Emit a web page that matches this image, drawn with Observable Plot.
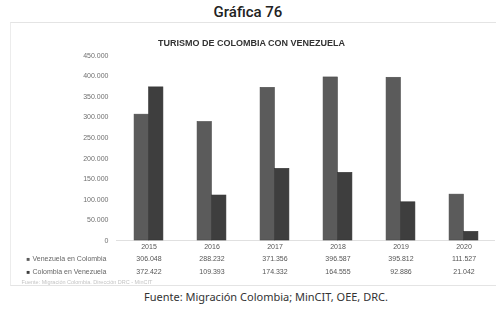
<!DOCTYPE html>
<html>
<head>
<meta charset="utf-8">
<script src="https://cdn.jsdelivr.net/npm/d3@7"></script>
<script src="https://cdn.jsdelivr.net/npm/@observablehq/plot@0.6"></script>
<style>
  html, body { margin: 0; padding: 0; background: #fff; }
  body { width: 496px; height: 323px; overflow: hidden; position: relative; }
  #title {
    position: absolute; left: 0; top: 2px; width: 496px; text-align: center;
    font: 500 15px Roboto, "Noto Sans", sans-serif; color: #222; line-height: 20px;
  }
  #chart {
    position: absolute; left: 10px; top: 22px; width: 486px; height: 262px;
    border-top: 1px solid #e4e4e4; border-left: 1px solid #ececec;
    border-bottom: 1px solid #e4e4e4;
  }
  #chart svg { display: block; filter: blur(0.35px); }
  #caption {
    position: absolute; left: 0; top: 289px; width: 496px; text-align: center;
    font: 400 11px "Noto Sans", "Open Sans", sans-serif; color: #333; line-height: 16px;
    padding-left: 36px; box-sizing: border-box;
  }
</style>
</head>
<body>
<div id="title">Gráfica 76</div>
<div id="chart"></div>
<div id="caption">Fuente: Migración Colombia; MinCIT, OEE, DRC.</div>
<script>
// Turismo entre Colombia y Venezuela, 2015–2020
const chartTitle = "TURISMO DE COLOMBIA CON VENEZUELA";
const years = ["2015", "2016", "2017", "2018", "2019", "2020"];
const seriesNames = ["Venezuela en Colombia", "Colombia en Venezuela"];
const venezuelaEnColombia = [306048, 288232, 371356, 396587, 395812, 111527];
const colombiaEnVenezuela = [372422, 109393, 174332, 164555, 92886, 21042];
const yTicks = [0, 50000, 100000, 150000, 200000, 250000, 300000, 350000, 400000, 450000];
const sourceNote = "Fuente: Migración Colombia. Dirección DRC - MinCIT";

const colors = ["#5b5b5b", "#3e3e3e"];
const es = d3.formatLocale({decimal: ",", thousands: ".", grouping: [3], currency: ["$", ""]});
const fmt = es.format(",d");

const s1 = years.map((year, i) => ({year, value: venezuelaEnColombia[i]}));
const s2 = years.map((year, i) => ({year, value: colombiaEnVenezuela[i]}));

const W = 486, H = 262;
const mL = 105, mR = 2, mT = 32, mB = 45;
const band = (W - mL - mR) / years.length;
const barW = 14.5;
const font = "'Liberation Sans', Arial, sans-serif";

const plot = Plot.plot({
  width: W,
  height: H,
  marginLeft: mL,
  marginRight: mR,
  marginTop: mT,
  marginBottom: mB,
  style: {fontFamily: font, background: "#fff"},
  x: {domain: years, padding: 0, axis: null, label: null},
  y: {domain: [0, 450000], axis: null, label: null},
  marks: [
    Plot.axisY({ticks: yTicks, tickFormat: fmt, tickSize: 0, tickPadding: 8, fontSize: 7, color: "#6f6f6f", label: null}),
    Plot.axisX({tickSize: 0, tickPadding: 4, fontSize: 7, color: "#555", label: null}),
    // baseline
    Plot.ruleY([0], {stroke: "#d8d8d8", strokeWidth: 0.8}),
    // grouped bars
    Plot.barY(s1, {x: "year", y: "value", fill: colors[0], stroke: "#4a4a4a", strokeWidth: 0.6,
      insetLeft: band / 2 - barW, insetRight: band / 2}),
    Plot.barY(s2, {x: "year", y: "value", fill: colors[1], stroke: "#333", strokeWidth: 0.6,
      insetLeft: band / 2, insetRight: band / 2 - barW}),
    // title
    Plot.text([chartTitle], {frameAnchor: "top-left", dx: 240 - mL, dy: -16, textAnchor: "middle",
      fontSize: 9, fontWeight: "bold", fill: "#333"}),
    // data table
    Plot.text(s1, {x: "year", text: d => fmt(d.value), frameAnchor: "bottom", dy: 20, fontSize: 7, fill: "#555"}),
    Plot.text(s2, {x: "year", text: d => fmt(d.value), frameAnchor: "bottom", dy: 33, fontSize: 7, fill: "#555"}),
    Plot.text(["■"], {frameAnchor: "bottom-left", dx: 15 - mL, dy: 20, textAnchor: "start", fontSize: 6, fill: colors[0]}),
    Plot.text(["■"], {frameAnchor: "bottom-left", dx: 15 - mL, dy: 33, textAnchor: "start", fontSize: 6, fill: colors[1]}),
    Plot.text([seriesNames[0]], {frameAnchor: "bottom-left", dx: 21 - mL, dy: 20, textAnchor: "start", fontSize: 7, fill: "#666"}),
    Plot.text([seriesNames[1]], {frameAnchor: "bottom-left", dx: 21 - mL, dy: 33, textAnchor: "start", fontSize: 7, fill: "#666"}),
    // source note inside the chart image
    Plot.text([sourceNote], {frameAnchor: "bottom-left", dx: 10 - mL, dy: 43, textAnchor: "start", fontSize: 5.5, fill: "#c4c4c4"})
  ]
});
document.getElementById("chart").appendChild(plot);
</script>
</body>
</html>
